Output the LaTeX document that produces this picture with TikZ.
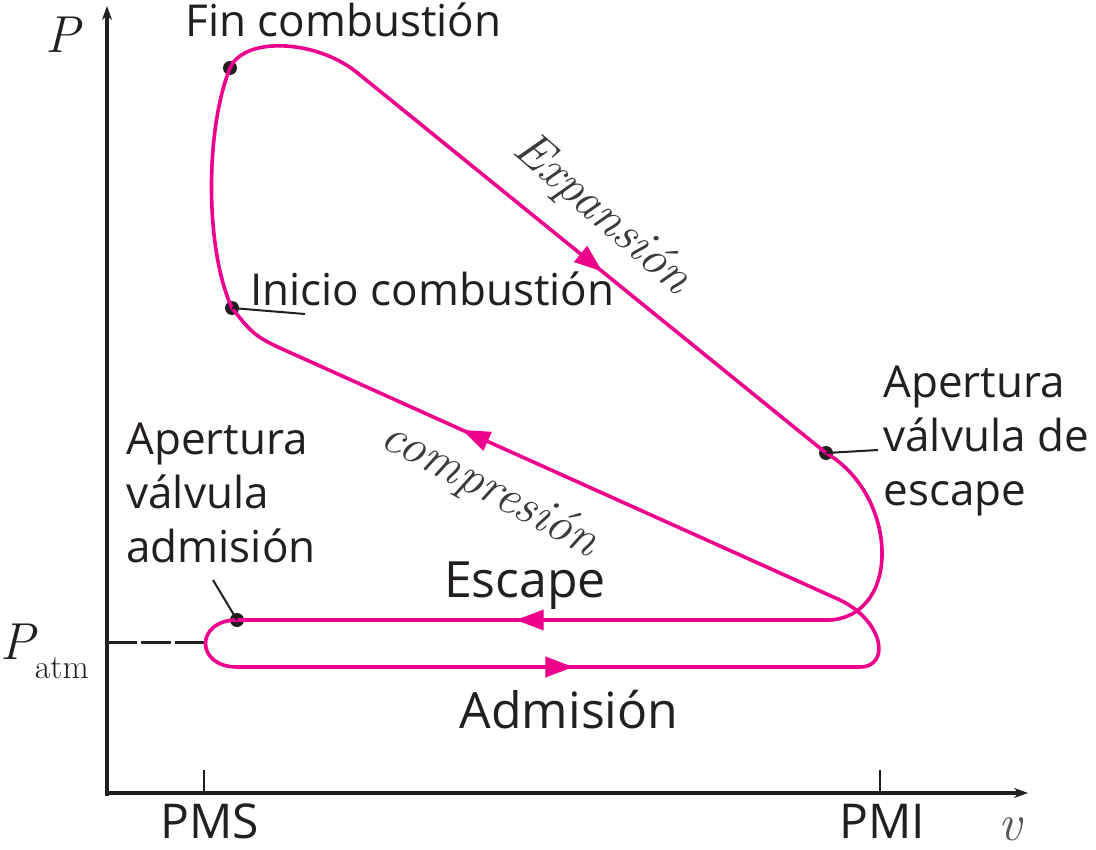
\documentclass[tikz,border=0pt]{standalone}
\usepackage{fontspec}
\usetikzlibrary{
  arrows.meta,
  decorations.markings,
  positioning
}
\newfontfamily\labelfont{Open Sans}
\definecolor{cycleRose}{HTML}{EC008C}
\definecolor{cycleInk}{HTML}{231F20}
\definecolor{cycleGrey}{HTML}{3A3A3A}
\tikzset{
  every node/.style={inner sep=0pt, text=cycleInk},
  tag/.style={font=\labelfont\fontsize{22}{27}\selectfont, align=left},
  stroke label/.style={font=\labelfont\fontsize{25}{30}\selectfont},
  tick label/.style={font=\labelfont\fontsize{24}{28}\selectfont},
  axis label/.style={font=\fontsize{26}{30}\selectfont\itshape},
  slope label/.style={font=\fontsize{25}{30}\selectfont\itshape, text=cycleGrey},
  axisline/.style={
    line width=1.8pt,
    draw=cycleInk,
    -{Stealth[length=7pt,width=5pt]}
  },
  tickline/.style={line width=1.2pt, draw=cycleInk},
  cycle line/.style={
    line width=1.8pt,
    draw=cycleRose,
    line cap=round,
    line join=round
  },
  flow/.style={
    cycle line,
    postaction={decorate},
    decoration={markings,
      mark=at position #1 with {\arrow{Triangle[length=14pt,width=10pt]}}}
  },
  cycledot/.style={circle, fill=cycleInk, minimum size=7pt},
  leader/.style={line width=1pt, draw=cycleInk}
}

\begin{document}
\begin{tikzpicture}[x=0.5pt, y=-0.5pt]
  \useasboundingbox (0,0) rectangle (1096,850);

  % axes
  \coordinate (origin) at (107,793);
  \coordinate (ptop) at (107,6);
  \coordinate (vend) at (1028,793);
  \draw[axisline] (107,796) -- (ptop);
  \draw[axisline] (106,793) -- (vend);
  \draw[tickline] (204,793) -- (204,770);
  \draw[tickline] (880,793) -- (880,770);
  \node[tick label, anchor=base] (pms) at (210,838) {PMS};
  \node[tick label, anchor=base] (pmi) at (882,838) {PMI};
  \node[axis label, anchor=base] (plabel) at (63,53) {P};
  \node[axis label, text=cycleGrey!85, anchor=base] (vlabel) at (1010,840) {v};
  \node[axis label, anchor=base west] (patm) at (0,659)
    {P\raisebox{-9.5pt}{\fontsize{17}{20}\selectfont\upshape atm}};
  \coordinate (atmstart) at (107,642);
  \coordinate (atmend) at (205,642);
  \draw[line width=1.5pt, draw=cycleInk, dash pattern=on 15pt off 2pt] (atmstart) -- (atmend);

  % valve and combustion points
  \foreach \nm/\x/\y in {fin/230/68, ini/232/308, ave/826/453, ava/237/620}
    \node[cycledot] (\nm) at (\x,\y) {};

  % combustion, expansion
  \draw[cycle line] (ini.center) .. controls (205,250) and (205,130) .. (fin.center)
    .. controls (245,35) and (320,40) .. (360,75);
  \draw[flow=0.52] (360,75) -- (ave.center);

  % exhaust
  \draw[cycle line] (ave.center) .. controls (898,495) and (902,615) .. (830,620);
  \draw[flow=0.53] (830,620) -- (ava.center);

  % intake
  \draw[cycle line] (ava.center) .. controls (195,620) and (195,667) .. (237,667);
  \draw[flow=0.54] (237,667) -- (860,667);

  % compression
  \draw[cycle line] (860,667) .. controls (890,667) and (885,622) .. (840,600);
  \draw[flow=0.7] (840,600) -- (300,357);
  \draw[cycle line] (300,357) .. controls (255,337) .. (ini.center);

  % labels
  \coordinate (inileader) at (305,314);
  \coordinate (aveleader) at (878,450);
  \coordinate (avaleader) at (213,580);
  \draw[leader] (ini.center) -- (inileader);
  \draw[leader] (ave.center) -- (aveleader);
  \draw[leader] (ava.center) -- (avaleader);

  \node[tag, anchor=base west] (finlabel) at (185,37) {Fin combustión};
  \node[tag, anchor=base west] (inilabel) at (250,305) {Inicio combustión};
  \node[tag, anchor=north west] (avelabel) at (883,366) {Apertura\\válvula de\\escape};
  \node[tag, anchor=north west] (avalabel) at (126,423) {Apertura\\válvula\\admisión};
  \node[stroke label, anchor=base] (escape) at (525,597) {Escape};
  \node[stroke label, anchor=base] (intake) at (569,728) {Admisión};
  \node[slope label, rotate=-41, anchor=center] (expansion) at (602,215) {Expansión};
  \node[slope label, rotate=-28, anchor=center] (compression) at (490,490) {compresión};
\end{tikzpicture}
\end{document}
